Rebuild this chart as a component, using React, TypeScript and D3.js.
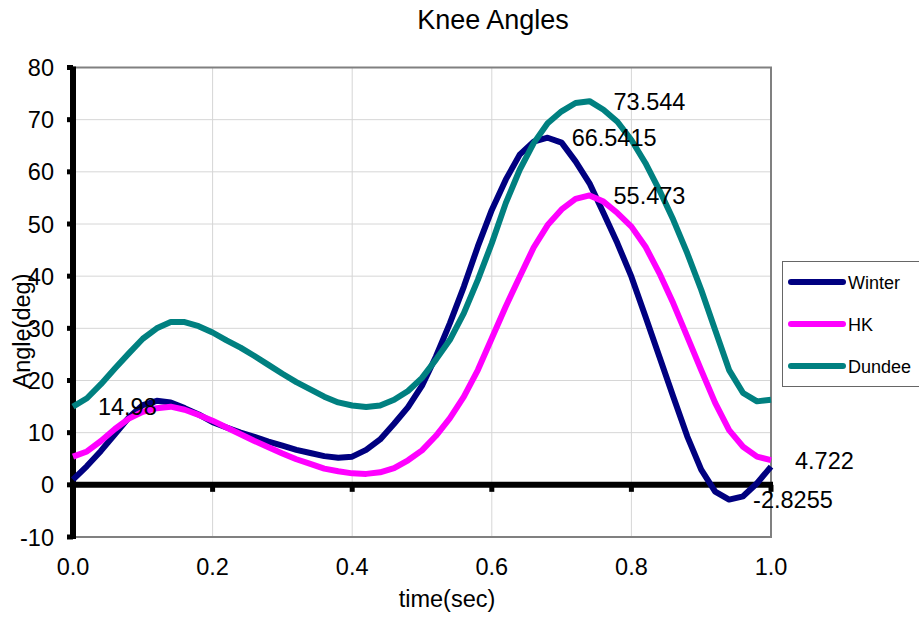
import React from "react";
import * as d3 from "d3";

// Time samples (sec), one every 0.02 s over the gait cycle
const time = d3.range(51).map((i) => +(i * 0.02).toFixed(2));

// Knee flexion angle (deg) for each source
const winter = [
  1.0, 3.6, 6.5, 9.7, 12.9, 15.3, 16.1, 15.8, 14.7, 13.5,
  12.0, 11.0, 10.0, 9.2, 8.3, 7.5, 6.7, 6.1, 5.5, 5.2,
  5.4, 6.7, 8.7, 11.7, 14.9, 19.0, 24.6, 31.0, 38.0, 45.7,
  52.7, 58.5, 63.3, 65.8, 66.5415, 65.6, 62.0, 57.8, 52.1, 46.3,
  39.9, 32.3, 24.6, 16.9, 9.3, 2.9, -1.3, -2.8255, -2.2, 0.3,
  3.5,
];
const hk = [
  5.4, 6.4, 8.4, 10.7, 12.7, 14.0, 14.7, 14.98, 14.4, 13.4,
  12.3, 11.0, 9.7, 8.4, 7.2, 6.0, 4.9, 4.0, 3.1, 2.6,
  2.2, 2.1, 2.4, 3.2, 4.7, 6.6, 9.4, 12.8, 16.9, 22.0,
  28.1, 34.2, 39.9, 45.5, 49.8, 52.8, 54.8, 55.473, 54.3, 52.1,
  49.5, 45.7, 40.6, 34.8, 28.4, 22.0, 15.7, 10.5, 7.3, 5.4,
  4.722,
];
const dundee = [
  15.0, 16.6, 19.3, 22.3, 25.2, 28.0, 30.0, 31.2, 31.2, 30.4,
  29.2, 27.7, 26.3, 24.7, 23.0, 21.3, 19.7, 18.3, 16.9, 15.8,
  15.2, 14.9, 15.2, 16.3, 18.0, 20.5, 24.0, 27.8, 32.9, 39.3,
  46.3, 54.0, 60.4, 65.5, 69.3, 71.6, 73.2, 73.544, 71.9, 69.6,
  66.1, 61.7, 56.5, 50.8, 44.4, 37.4, 29.7, 22.0, 17.6, 16.0,
  16.3,
];

const seriesNames = ["Winter", "HK", "Dundee"];
const seriesValues = [winter, hk, dundee];
const seriesColors = ["#000080", "#FF00FF", "#008080"];

const xTicks = [0, 0.2, 0.4, 0.6, 0.8, 1.0];
const yTicks = [-10, 0, 10, 20, 30, 40, 50, 60, 70, 80];

// Annotated points: [series index, sample index, side]
const labelSeries = [1, 0, 2, 1, 1, 0];
const labelIndex = [7, 34, 37, 37, 50, 47];
const labelSide = ["left", "right", "right", "right", "right", "right"];

const W = 919;
const H = 620;
const FONT = "'Liberation Sans', Arial, sans-serif";

export default function App() {
  const x = d3.scaleLinear().domain([0, 1]).range([73, 771]);
  const y = d3.scaleLinear().domain([-10, 80]).range([537, 67.5]);
  const [x0, x1] = x.range();
  const [yb, yt] = y.range();

  const line = d3
    .line<number>()
    .x((_, i) => x(time[i]))
    .y((d) => y(d))
    .curve(d3.curveLinear);

  return (
    <svg
      width={W}
      height={H}
      style={{ position: "absolute", left: 0, top: 0, background: "#fff" }}
      fontFamily={FONT}
    >
      {/* title */}
      <text x={493} y={29} fontSize={27} textAnchor="middle" fill="#000">
        Knee Angles
      </text>

      {/* grid */}
      {yTicks
        .filter((t) => t !== 0 && t !== -10 && t !== 80)
        .map((t) => (
          <line key={"gy" + t} x1={x0} x2={x1} y1={y(t)} y2={y(t)} stroke="#d6d6d6" strokeWidth={1} />
        ))}
      {xTicks
        .filter((t) => t !== 0 && t !== 1)
        .map((t) => (
          <line key={"gx" + t} x1={x(t)} x2={x(t)} y1={yt} y2={yb} stroke="#d6d6d6" strokeWidth={1} />
        ))}

      {/* plot frame */}
      <path d={`M${x0},${yt}H${x1}V${yb}H${x0}`} fill="none" stroke="#808080" strokeWidth={2} />

      {/* axes */}
      <line x1={x0} x2={x0} y1={yt - 1} y2={yb + 2} stroke="#000" strokeWidth={6} />
      <line x1={x0} x2={x1 + 2} y1={y(0)} y2={y(0)} stroke="#000" strokeWidth={6} />
      {yTicks.map((t) => (
        <rect key={"ty" + t} x={x0 - 6} y={y(t) - 2.5} width={6} height={5} fill="#000" />
      ))}
      {xTicks.map((t) => (
        <rect key={"tx" + t} x={x(t) - 2.5} y={y(0)} width={5} height={7} fill="#000" />
      ))}

      {/* tick labels */}
      {yTicks.map((t) => (
        <text key={"ly" + t} x={54} y={y(t) + 8.5} fontSize={23.5} textAnchor="end" fill="#000">
          {t}
        </text>
      ))}
      {xTicks.map((t) => (
        <text key={"lx" + t} x={x(t)} y={575} fontSize={23.5} textAnchor="middle" fill="#000">
          {t.toFixed(1)}
        </text>
      ))}

      {/* axis titles */}
      <text x={447} y={607} fontSize={23.5} textAnchor="middle" fill="#000">
        time(sec)
      </text>
      <text
        transform={`translate(30,${331}) rotate(-90)`}
        fontSize={23.5}
        textAnchor="middle"
        fill="#000"
      >
        Angle(deg)
      </text>

      {/* series */}
      {seriesValues.map((vals, s) => (
        <path
          key={seriesNames[s]}
          d={line(vals) || ""}
          fill="none"
          stroke={seriesColors[s]}
          strokeWidth={6}
          strokeLinejoin="round"
        />
      ))}

      {/* value annotations */}
      {labelSeries.map((s, k) => {
        const i = labelIndex[k];
        const v = seriesValues[s][i];
        const px = x(time[i]);
        const py = y(v);
        const left = labelSide[k] === "left";
        return (
          <text
            key={"ann" + k}
            x={left ? px - 14 : px + 24}
            y={py + 8.5}
            fontSize={23.5}
            textAnchor={left ? "end" : "start"}
            fill="#000"
          >
            {String(v)}
          </text>
        );
      })}

      {/* legend */}
      <rect x={782.5} y={261.5} width={160} height={125} fill="#fff" stroke="#666" strokeWidth={1} />
      {seriesNames.map((name, s) => {
        const ly = 282 + s * 42;
        return (
          <g key={"lg" + name}>
            <line x1={791} x2={843} y1={ly} y2={ly} stroke={seriesColors[s]} strokeWidth={6} strokeLinecap="round" />
            <text x={848} y={ly + 6.5} fontSize={18} fill="#000">
              {name}
            </text>
          </g>
        );
      })}
    </svg>
  );
}
